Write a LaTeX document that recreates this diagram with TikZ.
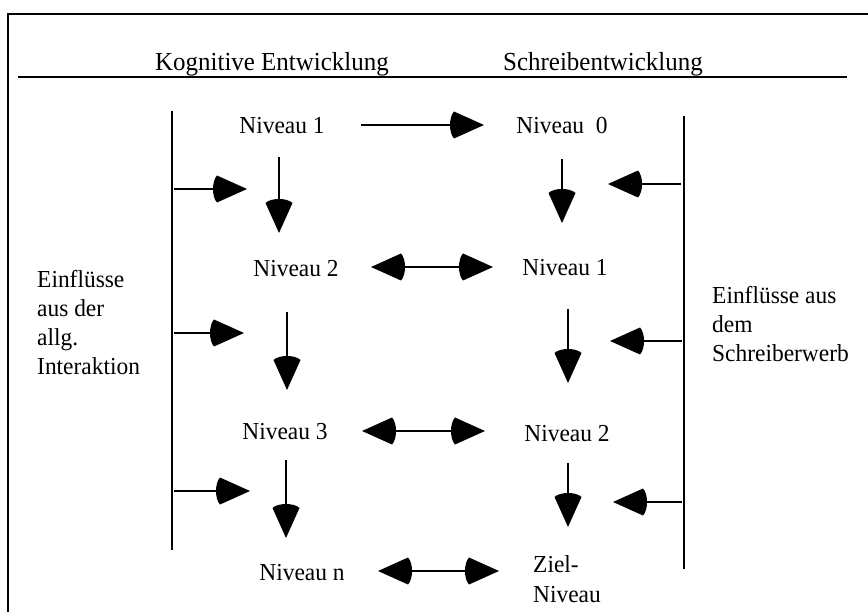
\documentclass[tikz,border=0pt]{standalone}
\usepackage{fontspec}
\setmainfont[FakeStretch=0.96]{Liberation Serif}
\usetikzlibrary{arrows.meta}

% filled triangular tip whose back edge bulges slightly towards the shaft
\pgfdeclarearrow{
  name = RoundBack,
  parameters = {\the\pgfarrowlength,\the\pgfarrowwidth},
  setup code = {
    \pgfarrowssettipend{0pt}
    \pgfarrowssetlineend{-.6\pgfarrowlength}
    \pgfarrowssetbackend{-\pgfarrowlength}
    \pgfarrowsupperhullpoint{0pt}{0pt}
    \pgfarrowsupperhullpoint{-\pgfarrowlength}{.5\pgfarrowwidth}
    \pgfarrowssavethe\pgfarrowlength
    \pgfarrowssavethe\pgfarrowwidth
  },
  drawing code = {
    \pgfpathmoveto{\pgfqpoint{0pt}{0pt}}
    \pgfpathlineto{\pgfqpoint{\dimexpr-\pgfarrowlength+4pt\relax}{.5\pgfarrowwidth}}
    \pgfpathcurveto
      {\pgfqpoint{\dimexpr-\pgfarrowlength-1.33pt\relax}{.3\pgfarrowwidth}}
      {\pgfqpoint{\dimexpr-\pgfarrowlength-1.33pt\relax}{-.3\pgfarrowwidth}}
      {\pgfqpoint{\dimexpr-\pgfarrowlength+4pt\relax}{-.5\pgfarrowwidth}}
    \pgfpathclose
    \pgfusepathqfill
  },
  defaults = {length = 34pt, width = 27pt}
}

\begin{document}
\begin{tikzpicture}[x=1pt,y=-1pt,
  txt/.style={font=\fontsize{24.4}{29}\selectfont, inner sep=0pt},
  headtxt/.style={font=\fontsize{26}{30}\selectfont, inner sep=0pt, anchor=base},
  bar/.style={line width=2.4pt},
  rule/.style={line width=2.6pt},
  bigtip/.tip={RoundBack[length=34pt,width=27pt]},
  flow/.style={line width=2pt, -bigtip},
  both/.style={line width=2pt, bigtip-bigtip},
]
\useasboundingbox (0,0) rectangle (868,612);
\clip (0,0) rectangle (868,612);

% outer frame (only left and top edges fall inside the page)
\coordinate (fbl) at (8,620);
\coordinate (ftl) at (8,14);
\coordinate (ftr) at (875,14);
\draw[bar] (fbl) -- (ftl) -- (ftr);

% column headings and rule
\node[headtxt] (hk) at (272,71) {Kognitive Entwicklung};
\node[headtxt] (hs) at (603,71) {Schreibentwicklung};
\coordinate (rl) at (18,77);
\coordinate (rr) at (847,77);
\draw[rule] (rl) -- (rr);

% influence bars
\coordinate (lt) at (172,111);
\coordinate (lb) at (172,550);
\coordinate (rt) at (684,116);
\coordinate (rb) at (684,569);
\draw[bar] (lt) -- (lb);
\draw[bar] (rt) -- (rb);

% level labels
\node[txt, anchor=base] (k1) at (282,134) {Niveau 1};
\node[txt, anchor=base] (s0) at (562,134) {Niveau\ \ 0};
\node[txt, anchor=base] (k2) at (296,277) {Niveau 2};
\node[txt, anchor=base] (s1) at (565,276) {Niveau 1};
\node[txt, anchor=base] (k3) at (285,439) {Niveau 3};
\node[txt, anchor=base] (s2) at (567,441) {Niveau 2};
\node[txt, anchor=base] (kn) at (302,580) {Niveau n};
\node[txt, anchor=north west, align=left, font=\fontsize{24.4}{30}\selectfont] (sz) at (533,555) {Ziel-\\Niveau};

% side texts
\node[txt, anchor=north west, align=left] (el) at (37,270) {Einflüsse\\aus der\\allg.\\Interaktion};
\node[txt, anchor=north west, align=left] (er) at (712,286) {Einflüsse aus\\dem\\Schreiberwerb};

% arrow end points
\coordinate (a1s) at (361,125);  \coordinate (a1e) at (484,125);
\coordinate (kd1s) at (279,157); \coordinate (kd1e) at (279,233);
\coordinate (ls1s) at (174,189); \coordinate (ls1e) at (247,189);
\coordinate (sd1s) at (562,159); \coordinate (sd1e) at (562,223);
\coordinate (rs1s) at (681,184); \coordinate (rs1e) at (608,184);

\coordinate (b2s) at (371,267);  \coordinate (b2e) at (493,267);
\coordinate (ls2s) at (174,333); \coordinate (ls2e) at (244,333);
\coordinate (kd2s) at (287,312); \coordinate (kd2e) at (287,390);
\coordinate (sd2s) at (568,309); \coordinate (sd2e) at (568,383);
\coordinate (rs2s) at (682,341); \coordinate (rs2e) at (610,341);

\coordinate (b3s) at (362,431);  \coordinate (b3e) at (485,431);
\coordinate (ls3s) at (174,491); \coordinate (ls3e) at (250,491);
\coordinate (kd3s) at (286,460); \coordinate (kd3e) at (286,538);
\coordinate (sd3s) at (568,463); \coordinate (sd3e) at (568,527);
\coordinate (rs3s) at (682,502); \coordinate (rs3e) at (613,502);

\coordinate (b4s) at (378,571);  \coordinate (b4e) at (499,571);

% connectors
\draw[flow] (a1s) -- (a1e);
\draw[flow] (kd1s) -- (kd1e);
\draw[flow] (ls1s) -- (ls1e);
\draw[flow] (sd1s) -- (sd1e);
\draw[flow] (rs1s) -- (rs1e);

\draw[both] (b2s) -- (b2e);
\draw[flow] (ls2s) -- (ls2e);
\draw[flow] (kd2s) -- (kd2e);
\draw[flow] (sd2s) -- (sd2e);
\draw[flow] (rs2s) -- (rs2e);

\draw[both] (b3s) -- (b3e);
\draw[flow] (ls3s) -- (ls3e);
\draw[flow] (kd3s) -- (kd3e);
\draw[flow] (sd3s) -- (sd3e);
\draw[flow] (rs3s) -- (rs3e);

\draw[both] (b4s) -- (b4e);
\end{tikzpicture}
\end{document}
